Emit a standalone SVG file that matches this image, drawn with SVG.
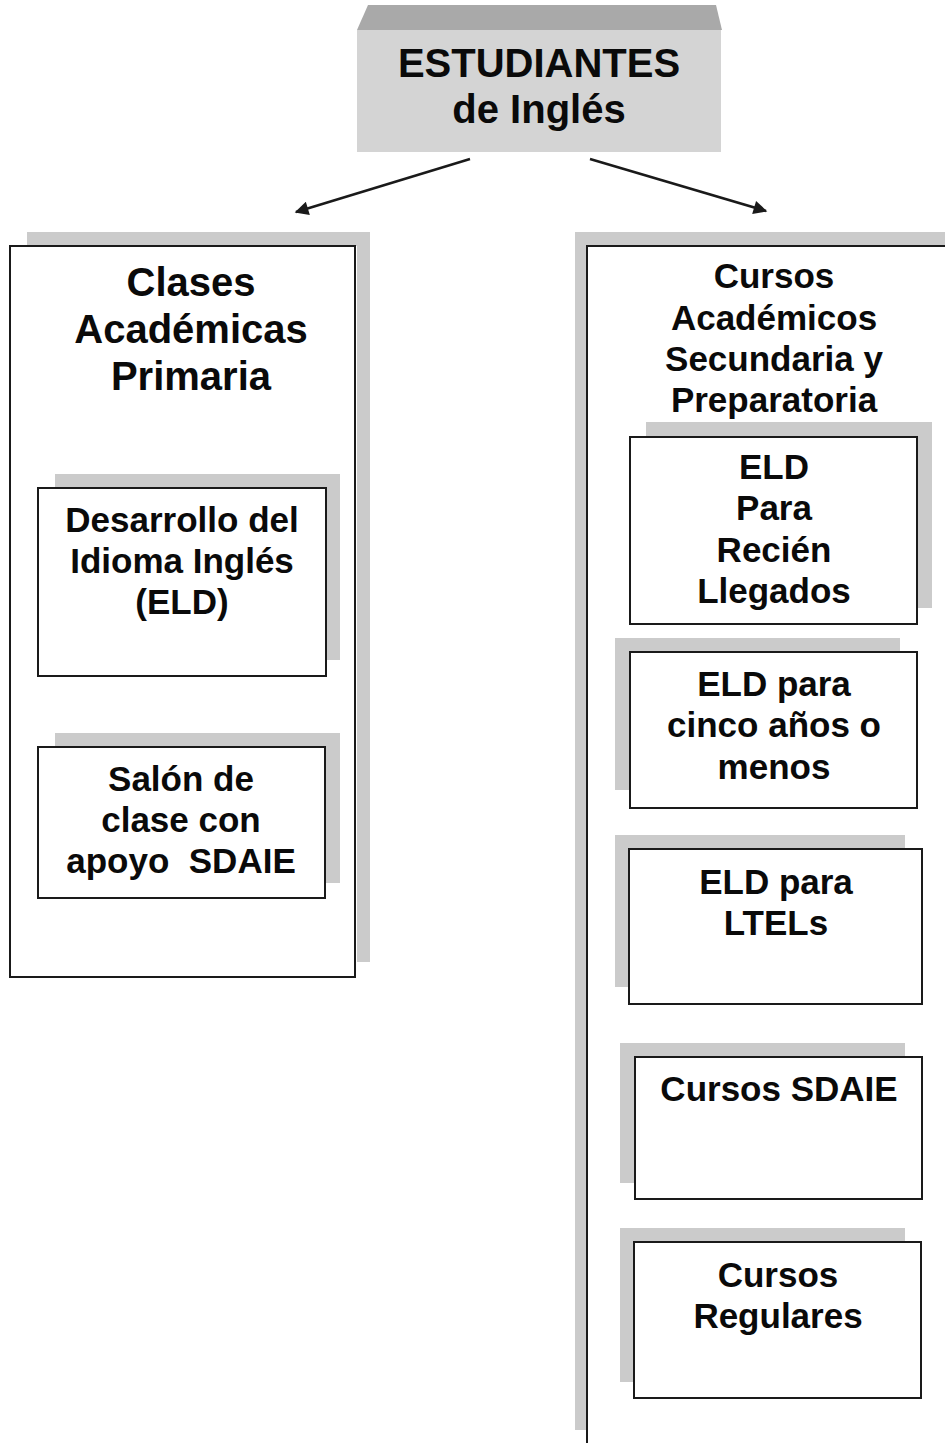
<svg xmlns="http://www.w3.org/2000/svg" width="945" height="1443" viewBox="0 0 945 1443">
<defs>
<style>
text{font-family:"Liberation Sans",Arial,sans-serif;font-weight:bold;fill:#0a0a0a;text-anchor:middle}
.t40{font-size:40px}
.t35{font-size:35px}
.sh{fill:#cbcbcb}
.bx{fill:#fff;stroke:#1a1a1a;stroke-width:2}
.ln{stroke:#1a1a1a;stroke-width:2;fill:none}
.cn{stroke:#1a1a1a;stroke-width:2.5;fill:none;marker-end:url(#ah)}
</style>
<marker id="ah" viewBox="0 0 10 10" refX="9" refY="5" markerWidth="7" markerHeight="5.5" orient="auto" markerUnits="strokeWidth">
<path d="M0,0 L10,5 L0,10 z" fill="#1a1a1a"/>
</marker>
</defs>
<rect width="945" height="1443" fill="#fff"/>

<g id="root">
<polygon points="368,5 716,5 722,30 357,30" fill="#a9a9a9"/>
<rect x="357" y="30" width="364" height="122" fill="#d4d4d4"/>
<text class="t40" x="539" y="77">ESTUDIANTES</text>
<text class="t40" x="539" y="123">de Inglés</text>
</g>

<g id="connectors">
<line class="cn" x1="470" y1="159" x2="296" y2="212"/>
<line class="cn" x1="590" y1="159" x2="766" y2="211"/>
</g>

<g id="primaria">
<path class="sh" d="M27,232 H370 V962 H357 V246 H27 z"/>
<rect class="bx" x="10" y="246" width="345" height="731"/>
<text class="t40" x="191" y="296">Clases</text>
<text class="t40" x="191" y="343">Académicas</text>
<text class="t40" x="191" y="390">Primaria</text>
</g>

<g id="eld-primaria">
<rect class="sh" x="55" y="474" width="285" height="186"/>
<rect class="bx" x="38" y="488" width="288" height="188"/>
<text class="t35" x="182" y="532">Desarrollo del</text>
<text class="t35" x="182" y="573">Idioma Inglés</text>
<text class="t35" x="182" y="614">(ELD)</text>
</g>

<g id="sdaie-primaria">
<rect class="sh" x="55" y="733" width="285" height="150"/>
<rect class="bx" x="38" y="747" width="287" height="151"/>
<text class="t35" x="181" y="791">Salón de</text>
<text class="t35" x="181" y="832">clase con</text>
<text class="t35" x="181" y="873" xml:space="preserve">apoyo  SDAIE</text>
</g>

<g id="secundaria">
<path class="sh" d="M575,232 H945 V246 H587 V1430 H575 z"/>
<path class="ln" d="M945,246 H587 V1443"/>
<text class="t35" x="774" y="288">Cursos</text>
<text class="t35" x="774" y="330">Académicos</text>
<text class="t35" x="774" y="371">Secundaria y</text>
<text class="t35" x="774" y="412">Preparatoria</text>
</g>

<g id="eld-recien">
<rect class="sh" x="646" y="422" width="286" height="186"/>
<rect class="bx" x="630" y="437" width="287" height="187"/>
<text class="t35" x="774" y="479">ELD</text>
<text class="t35" x="774" y="520">Para</text>
<text class="t35" x="774" y="562">Recién</text>
<text class="t35" x="774" y="603">Llegados</text>
</g>

<g id="eld-cinco">
<rect class="sh" x="615" y="638" width="285" height="152"/>
<rect class="bx" x="630" y="652" width="287" height="156"/>
<text class="t35" x="774" y="696">ELD para</text>
<text class="t35" x="774" y="737">cinco años o</text>
<text class="t35" x="774" y="779">menos</text>
</g>

<g id="eld-ltels">
<rect class="sh" x="615" y="835" width="290" height="152"/>
<rect class="bx" x="629" y="849" width="293" height="155"/>
<text class="t35" x="776" y="894">ELD para</text>
<text class="t35" x="776" y="935">LTELs</text>
</g>

<g id="cursos-sdaie">
<rect class="sh" x="620" y="1043" width="285" height="140"/>
<rect class="bx" x="635" y="1057" width="287" height="142"/>
<text class="t35" x="779" y="1101">Cursos SDAIE</text>
</g>

<g id="cursos-regulares">
<rect class="sh" x="620" y="1228" width="285" height="154"/>
<rect class="bx" x="634" y="1242" width="287" height="156"/>
<text class="t35" x="778" y="1287">Cursos</text>
<text class="t35" x="778" y="1328">Regulares</text>
</g>
</svg>
